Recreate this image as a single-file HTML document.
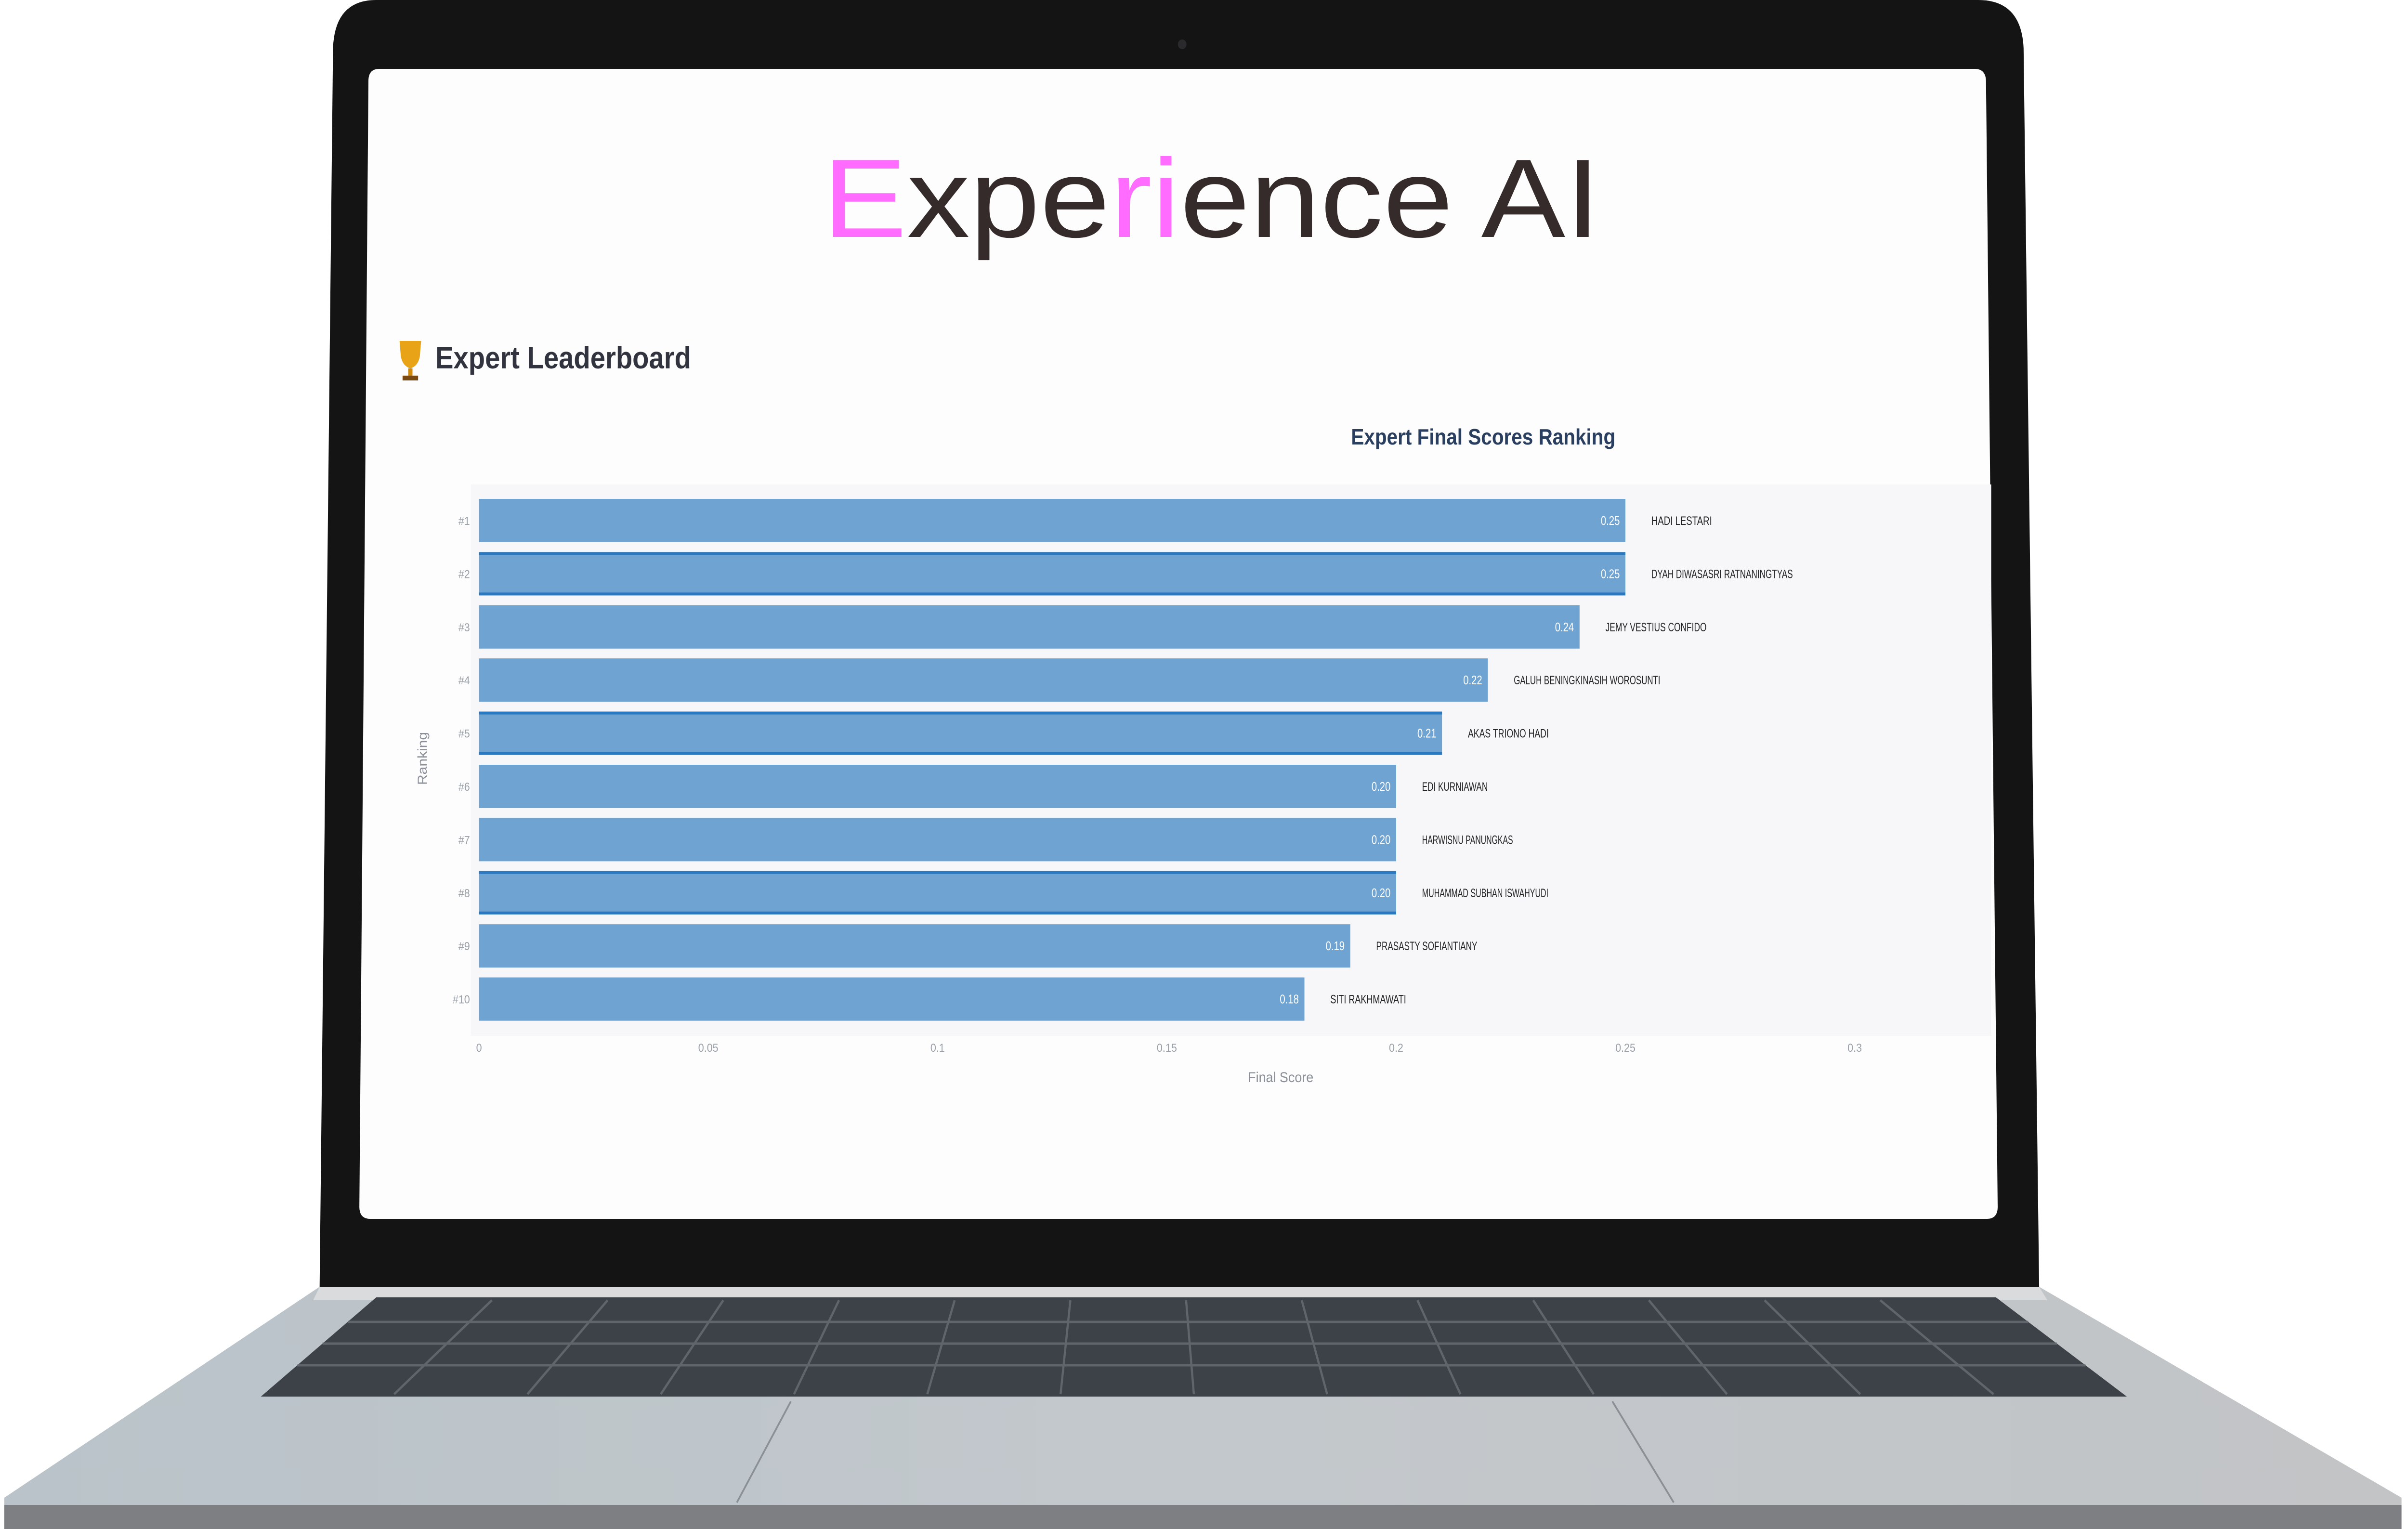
<!DOCTYPE html>
<html><head><meta charset="utf-8"><style>
html,body{margin:0;padding:0;background:#fff;overflow:hidden;width:100vw;height:100vh;}
#root{position:fixed;left:0;top:0;width:100vw;height:100vh;display:block;}
text{font-family:"Liberation Sans",sans-serif;}
</style></head><body>
<svg id="root" viewBox="0 0 5575 3175" preserveAspectRatio="none" xmlns="http://www.w3.org/2000/svg">
<defs>
<linearGradient id="baseGrad" x1="0" y1="0" x2="1" y2="0">
<stop offset="0" stop-color="#b9c3c9"/><stop offset="0.5" stop-color="#c3c8cc"/><stop offset="1" stop-color="#c2c4c6"/>
</linearGradient>
</defs>
<path d="M740 2672 L4721 2672 L5560 3110 L5560 3175 L10 3175 L10 3110 Z" fill="url(#baseGrad)"/>
<path d="M10 3125 L5560 3125 L5560 3175 L10 3175 Z" fill="#7d7f82"/>
<path d="M740 2672 L4721 2672 L4740 2700 L725 2700 Z" fill="#d9dbdd"/>
<path d="M871 2694 L4621 2694 L4924 2900 L604 2900 Z" fill="#3d4148"/>
<g id="keys" stroke="#70757c" stroke-width="5" opacity="0.7"></g>
<line x1="1831" y1="2910" x2="1706" y2="3120" stroke="#8a9096" stroke-width="4"/>
<line x1="3733" y1="2910" x2="3875" y2="3120" stroke="#8a9096" stroke-width="4"/>
<path d="M871 0 L4580 0 Q4680 0 4685 100 L4721 2672 L740 2672 L771 100 Q775 0 871 0 Z" fill="#141415"/>
<circle cx="2737" cy="92" r="10" fill="#2a2a2c"/>
<path d="M878 143 L4572 143 Q4597 143 4598 168 L4625 2506 Q4625 2531 4600 2531 L857 2531 Q832 2531 832 2506 L853 168 Q853 143 878 143 Z" fill="#fdfdfd"/>
<text x="1905" y="492" font-family="DejaVu Sans, sans-serif" font-size="232" textLength="1800" lengthAdjust="spacingAndGlyphs" fill="#352b2a"><tspan fill="#ff6cff">E</tspan>xpe<tspan fill="#ff6cff">ri</tspan>ence AI</text>
<g>
<path d="M925 708 L975 708 L972 740 Q968 760 950 765 Q932 760 928 740 Z" fill="#e8a317"/>
<rect x="945" y="765" width="10" height="15" fill="#d18b0c"/>
<rect x="932" y="780" width="36" height="10" fill="#7a4a12"/>
</g>
<text x="1008" y="765" font-size="64" font-weight="bold" fill="#31333f" textLength="592" lengthAdjust="spacingAndGlyphs">Expert Leaderboard</text>
<text x="3434" y="923" font-size="46" font-weight="bold" fill="#2a3f5f" text-anchor="middle" textLength="612" lengthAdjust="spacingAndGlyphs">Expert Final Scores Ranking</text>
<rect x="1090" y="1006" width="3520" height="1145" fill="#f7f7f9"/>
<g id="chart"></g>
<text x="2965" y="2247" font-size="30" fill="#8a8f99" text-anchor="middle">Final Score</text>
<text transform="translate(988 1575) rotate(-90)" font-size="30" fill="#8a8f99" text-anchor="middle">Ranking</text>
</svg>
<script>
const ranks = ["#1","#2","#3","#4","#5","#6","#7","#8","#9","#10"];
const names = ["HADI LESTARI","DYAH DIWASASRI RATNANINGTYAS","JEMY VESTIUS CONFIDO","GALUH BENINGKINASIH WOROSUNTI","AKAS TRIONO HADI","EDI KURNIAWAN","HARWISNU PANUNGKAS","MUHAMMAD SUBHAN ISWAHYUDI","PRASASTY SOFIANTIANY","SITI RAKHMAWATI"];
const scores = [0.25,0.25,0.24,0.22,0.21,0.20,0.20,0.20,0.19,0.18];
const highlighted = [false,true,false,false,true,false,false,true,false,false];
const xTicks = [0,0.05,0.1,0.15,0.2,0.25,0.3];
const xTickLabels = ["0","0.05","0.1","0.15","0.2","0.25","0.3"];

const NS = "http://www.w3.org/2000/svg";
const chart = document.getElementById("chart");
const X0 = 1109, X1 = 4294, XMAX = 0.3;
function x(v){ return X0 + (v / XMAX) * (X1 - X0); }
const YTOP = 1026, PITCH = 110.4, BARH = 90;
function yc(i){ return YTOP + PITCH * i + 55; }
function mk(tag, attrs){ const e = document.createElementNS(NS, tag); for (const k in attrs) e.setAttribute(k, attrs[k]); return e; }

xTicks.forEach((t, i) => {
  const tx = mk("text", {x: x(t), y: 2184, "font-size": 24, fill: "#9aa0a8", "text-anchor": "middle"});
  
  
  tx.textContent = xTickLabels[i];
  chart.appendChild(tx);
});

scores.forEach((s, i) => {
  const c = yc(i);
  const bar = mk("rect", {x: x(0), y: c - BARH/2, width: x(s) - x(0), height: BARH, fill: "#6fa3d2"});
  
  
  chart.appendChild(bar);
  if (highlighted[i]) {
    [c - BARH/2, c + BARH/2 - 6].forEach(yy => {
      const ln = mk("rect", {x: x(0), y: yy, width: x(s) - x(0), height: 6, fill: "#2a78c0"});
      
      
      chart.appendChild(ln);
    });
  }
  const val = mk("text", {x: x(s) - 13, y: c + 9, "font-size": 26, fill: "#ffffff", "text-anchor": "end", textLength: 44, lengthAdjust: "spacingAndGlyphs"});
  
  
  val.textContent = s.toFixed(2);
  chart.appendChild(val);
  const nm = mk("text", {x: x(s) + 60, y: c + 9, "font-size": 25, fill: "#222", textLength: names[i].length * 11.7, lengthAdjust: "spacingAndGlyphs"});
  
  
  nm.textContent = names[i];
  chart.appendChild(nm);
  const rk = mk("text", {x: 1088, y: c + 9, "font-size": 24, fill: "#9aa0a8", "text-anchor": "end"});
  
  
  rk.textContent = ranks[i];
  chart.appendChild(rk);
});

const keys = document.getElementById("keys");
const rows = [2745, 2790, 2835];
rows.forEach(yy => {
  const t = (yy - 2694) / 206;
  const l = 871 + (604 - 871) * t, r = 4621 + (4924 - 4621) * t;
  const ln = mk("line", {x1: l, y1: yy, x2: r, y2: yy});
  
  
  keys.appendChild(ln);
});
for (let k = 1; k < 14; k++) {
  const f = k / 14;
  const ln = mk("line", {x1: 871 + (4621 - 871) * f, y1: 2700, x2: 604 + (4924 - 604) * f, y2: 2895});
  
  
  keys.appendChild(ln);
}
</script>
</body></html>
